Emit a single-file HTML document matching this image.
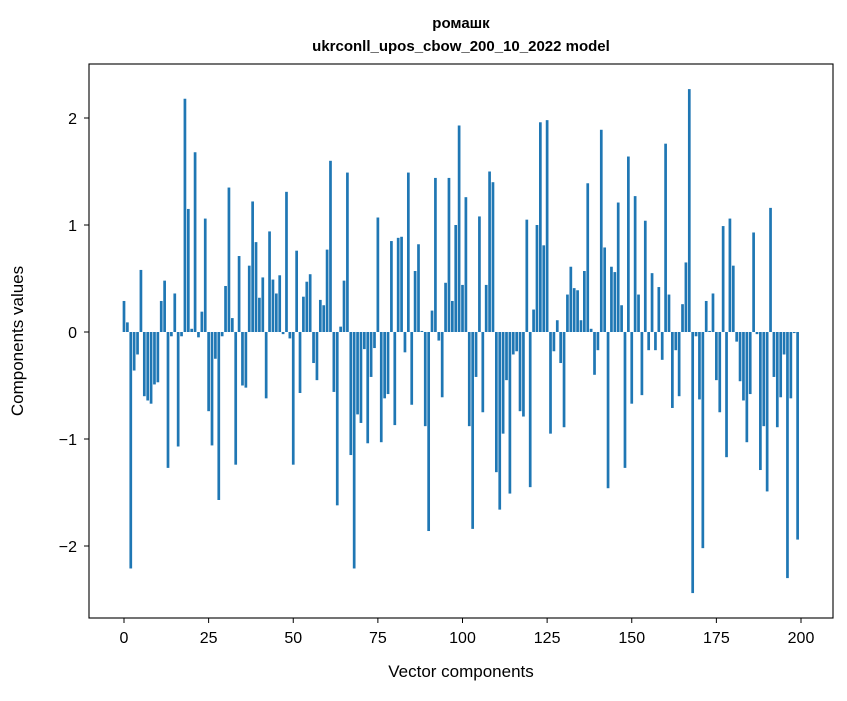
<!DOCTYPE html>
<html><head><meta charset="utf-8"><style>
body{margin:0;background:#fff;}
svg text{font-family:"Liberation Sans","DejaVu Sans",sans-serif;fill:#000;}
</style></head><body>
<svg width="847" height="696" viewBox="0 0 847 696">
<rect width="847" height="696" fill="#fff"/>
<text x="461" y="28" font-size="15" font-weight="bold" text-anchor="middle">ромашк</text>
<text x="461" y="51" font-size="15" font-weight="bold" text-anchor="middle">ukrconll_upos_cbow_200_10_2022 model</text>
<g id="bars"></g>
<g id="axes"></g>
<rect x="89" y="64" width="744" height="554" fill="none" stroke="#000" stroke-width="1.1"/>
<text x="461" y="677" font-size="17" text-anchor="middle">Vector components</text>
<text x="23" y="341" font-size="17" text-anchor="middle" transform="rotate(-90 23 341)">Components values</text>
</svg>
<script>
const values = [0.29,0.09,-2.21,-0.36,-0.21,0.58,-0.60,-0.64,-0.67,-0.49,-0.47,0.29,0.48,-1.27,-0.04,0.36,-1.07,-0.04,2.18,1.15,0.03,1.68,-0.05,0.19,1.06,
-0.74,-1.06,-0.25,-1.57,-0.04,0.43,1.35,0.13,-1.24,0.71,-0.50,-0.52,0.62,1.22,0.84,0.32,0.51,-0.62,0.94,0.49,0.36,0.53,-0.02,1.31,-0.06,
-1.24,0.76,-0.57,0.33,0.47,0.54,-0.29,-0.45,0.30,0.25,0.77,1.60,-0.56,-1.62,0.05,0.48,1.49,-1.15,-2.21,-0.77,-0.85,-0.16,-1.04,-0.42,-0.15,
1.07,-1.03,-0.62,-0.58,0.85,-0.87,0.88,0.89,-0.19,1.49,-0.68,0.57,0.82,0.01,-0.88,-1.86,0.20,1.44,-0.08,-0.61,0.46,1.44,0.29,1.00,1.93,
0.44,1.26,-0.88,-1.84,-0.42,1.08,-0.75,0.44,1.50,1.40,-1.31,-1.66,-0.95,-0.45,-1.51,-0.21,-0.18,-0.74,-0.79,1.05,-1.45,0.21,1.00,1.96,0.81,
1.98,-0.95,-0.18,0.11,-0.29,-0.89,0.35,0.61,0.41,0.39,0.11,0.57,1.39,0.03,-0.40,-0.17,1.89,0.79,-1.46,0.61,0.56,1.21,0.25,-1.27,1.64,
-0.67,1.27,0.35,-0.59,1.04,-0.17,0.55,-0.17,0.42,-0.26,1.76,0.35,-0.71,-0.17,-0.60,0.26,0.65,2.27,-2.44,-0.04,-0.63,-2.02,0.29,0.01,0.36,
-0.45,-0.75,0.99,-1.17,1.06,0.62,-0.09,-0.46,-0.64,-1.03,-0.58,0.93,-0.02,-1.29,-0.88,-1.49,1.16,-0.42,-0.89,-0.61,-0.21,-2.30,-0.62,-0.01,-1.94];
const xTicks = [0,25,50,75,100,125,150,175,200];
const yTicks = [-2,-1,0,1,2];
const NS="http://www.w3.org/2000/svg";
const X = v => 124 + v*3.385;
const Y = v => 332 - v*107;
const bars=document.getElementById('bars');
values.forEach((v,i)=>{
  const r=document.createElementNS(NS,'rect');
  r.setAttribute('x',X(i-0.4));
  r.setAttribute('width',0.8*3.385);
  r.setAttribute('y',Math.min(Y(v),Y(0)));
  r.setAttribute('height',Math.max(Math.abs(Y(v)-Y(0)),0.3));
  r.setAttribute('fill','#1f77b4');
  
  
  bars.appendChild(r);
});
const axes=document.getElementById('axes');
xTicks.forEach(t=>{
  const l=document.createElementNS(NS,'line');
  l.setAttribute('x1',X(t));l.setAttribute('x2',X(t));l.setAttribute('y1',618);l.setAttribute('y2',623);
  l.setAttribute('stroke','#000');
  
  
  axes.appendChild(l);
  const tx=document.createElementNS(NS,'text');
  tx.setAttribute('x',X(t));tx.setAttribute('y',643);tx.setAttribute('font-size','16');tx.setAttribute('text-anchor','middle');
  tx.textContent=t;
  
  
  axes.appendChild(tx);
});
yTicks.forEach(t=>{
  const l=document.createElementNS(NS,'line');
  l.setAttribute('x1',84);l.setAttribute('x2',89);l.setAttribute('y1',Y(t));l.setAttribute('y2',Y(t));
  l.setAttribute('stroke','#000');
  
  
  axes.appendChild(l);
  const tx=document.createElementNS(NS,'text');
  tx.setAttribute('x',77);tx.setAttribute('y',Y(t)+6);tx.setAttribute('font-size','16');tx.setAttribute('text-anchor','end');
  tx.textContent=t<0?'\u2212'+Math.abs(t):String(t);
  
  
  axes.appendChild(tx);
});
</script>
</body></html>
